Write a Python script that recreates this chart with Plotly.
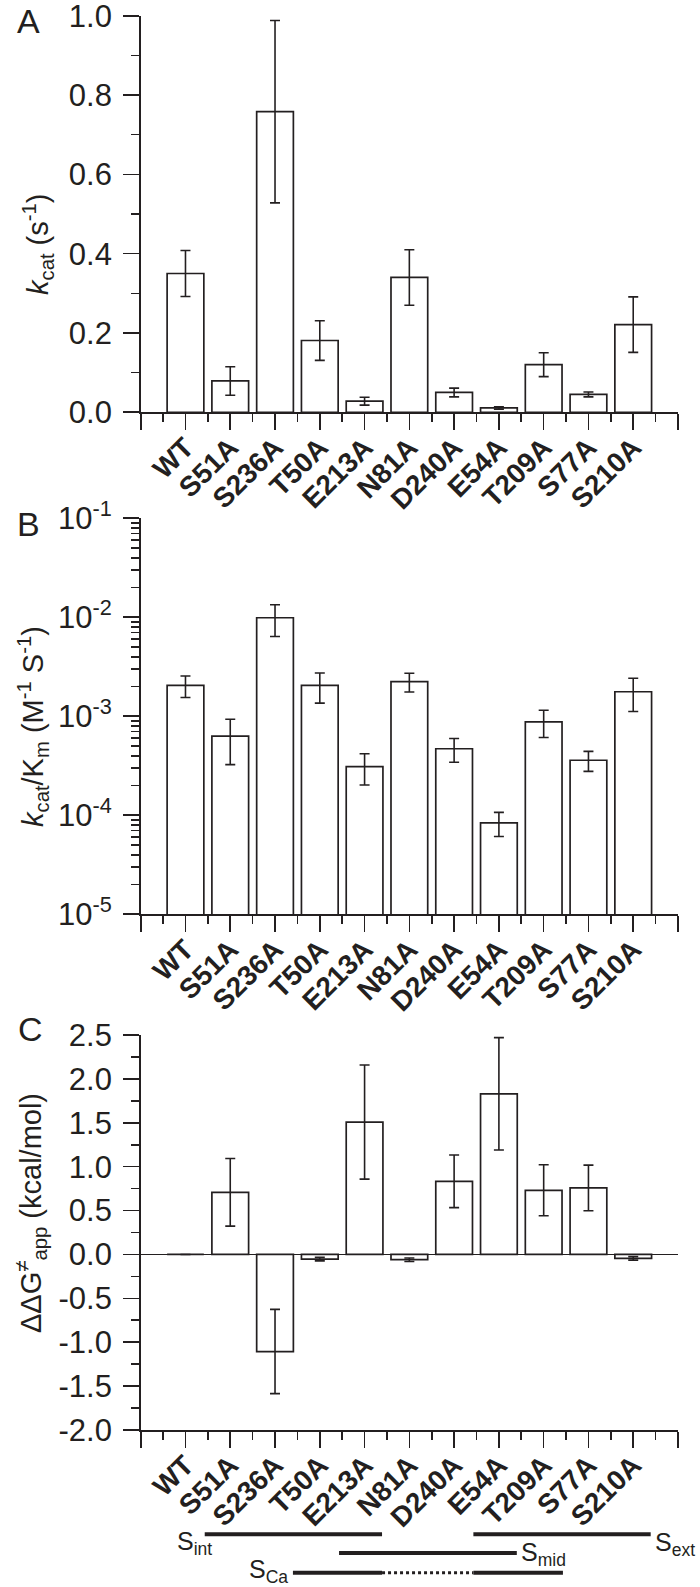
import plotly.graph_objects as go

# ---------------- data ----------------
mutants = ["WT", "S51A", "S236A", "T50A", "E213A", "N81A", "D240A", "E54A", "T209A", "S77A", "S210A"]

kcat = [0.350, 0.079, 0.758, 0.181, 0.028, 0.340, 0.050, 0.011, 0.120, 0.045, 0.221]
kcat_err = [0.058, 0.036, 0.230, 0.050, 0.010, 0.070, 0.011, 0.003, 0.030, 0.006, 0.070]

kcat_km = [2.05e-3, 6.3e-4, 9.9e-3, 2.05e-3, 3.1e-4, 2.24e-3, 4.7e-4, 8.4e-5, 8.8e-4, 3.6e-4, 1.77e-3]
kcat_km_err = [0.5e-3, 3.05e-4, 3.5e-3, 0.69e-3, 1.08e-4, 0.48e-3, 1.27e-4, 2.3e-5, 2.7e-4, 0.82e-4, 0.65e-3]

ddg = [0.0, 0.708, -1.106, -0.053, 1.508, -0.060, 0.833, 1.830, 0.731, 0.758, -0.045]
ddg_err = [0.0, 0.385, 0.480, 0.020, 0.650, 0.020, 0.300, 0.640, 0.290, 0.260, 0.020]

logB_vals = [1e-5, 1e-4, 1e-3, 1e-2, 1e-1]
logB_text = ["10<sup>-5</sup>", "10<sup>-4</sup>", "10<sup>-3</sup>", "10<sup>-2</sup>", "10<sup>-1</sup>"]
C_vals = [-2.0, -1.5, -1.0, -0.5, 0.0, 0.5, 1.0, 1.5, 2.0, 2.5]
C_text = ["-2.0", "-1.5", "-1.0", "-0.5", "0.0", "0.5", "1.0", "1.5", "2.0", "2.5"]

# site segments (category index start, end)
seg_int = [0.43, 4.39]
seg_mid = [3.43, 7.40]
seg_ext = [6.43, 10.39]
seg_ca_solid = [[2.40, 4.39], [6.43, 8.43]]
seg_ca_dot = [4.39, 6.43]

# ---------------- layout helpers ----------------
W, H = 700, 1587
INK = "#231f20"
FONT = "Liberation Sans, Arial, sans-serif"

def py(p):
    return 1 - p / H

def px(p):
    return p / W

xpos = list(range(len(mutants)))
xdom = [px(140.7), px(678)]

fig = go.Figure()

bar_style = dict(marker=dict(color="white", line=dict(color=INK, width=1.7)), width=0.82, showlegend=False)
err_style = dict(type="data", visible=True, color=INK, thickness=1.6, width=5)

fig.add_trace(go.Bar(x=xpos, y=kcat, error_y=dict(array=kcat_err, **err_style), xaxis="x", yaxis="y", **bar_style))
fig.add_trace(go.Bar(x=xpos, y=kcat_km, error_y=dict(array=kcat_km_err, **err_style), xaxis="x2", yaxis="y2", **bar_style))
fig.add_trace(go.Bar(x=xpos, y=ddg, error_y=dict(array=ddg_err, **err_style), xaxis="x3", yaxis="y3", **bar_style))

major_x = list(range(-1, len(mutants) + 1))
major_text = [""] + mutants + [""]
minor_x = [i + 0.5 for i in range(-1, len(mutants))]

def xaxis_cfg(anchor):
    return dict(
        domain=xdom, range=[-1, len(mutants)], anchor=anchor, automargin=False,
        tickmode="array", tickvals=major_x, ticktext=major_text,
        ticks="outside", ticklen=16, tickwidth=1.6, tickcolor=INK,
        tickangle=-45, ticklabelstandoff=-10, ticklabeloverflow="allow",
        tickfont=dict(family=FONT, size=28, color=INK, weight="bold"),
        showline=True, linecolor=INK, linewidth=1.6, showgrid=False, zeroline=False,
        minor=dict(tickmode="array", tickvals=minor_x, ticks="outside", ticklen=8, tickwidth=1.6, tickcolor=INK),
    )

yfont = dict(family=FONT, size=31, color=INK)
ycommon = dict(automargin=False, ticks="outside", ticklen=16, tickwidth=1.6, tickcolor=INK, tickfont=yfont,
               ticklabelstandoff=5, ticklabeloverflow="allow",
               showline=True, linecolor=INK, linewidth=1.6, showgrid=False)

fig.update_layout(
    template="none",
    width=W, height=H,
    margin=dict(l=0, r=0, t=0, b=0, autoexpand=False),
    paper_bgcolor="white", plot_bgcolor="white",
    xaxis=xaxis_cfg("y"),
    xaxis2=xaxis_cfg("y2"),
    xaxis3=xaxis_cfg("y3"),
    yaxis=dict(
        domain=[py(412.3), py(15.7)], range=[0, 1.0], anchor="x",
        tickmode="linear", tick0=0, dtick=0.2, tickformat=".1f", zeroline=False,
        minor=dict(dtick=0.1, ticks="outside", ticklen=8, tickwidth=1.6, tickcolor=INK),
        **ycommon,
    ),
    yaxis2=dict(
        domain=[py(914.3), py(518.3)], type="log", range=[-5, -1], anchor="x2",
        tickmode="array", tickvals=logB_vals, ticktext=logB_text, zeroline=False,
        minor=dict(dtick="D1", ticks="outside", ticklen=8, tickwidth=1.6, tickcolor=INK),
        **ycommon,
    ),
    yaxis3=dict(
        domain=[py(1430), py(1035)], range=[-2.0, 2.5], anchor="x3",
        tickmode="array", tickvals=C_vals, ticktext=C_text,
        zeroline=True, zerolinecolor=INK, zerolinewidth=1.6,
        minor=dict(tickmode="array", tickvals=[v + 0.25 for v in C_vals[:-1]], ticks="outside", ticklen=8, tickwidth=1.6, tickcolor=INK),
        **ycommon,
    ),
)

ann = []
# panel letters (top edge of text box, in page pixels)
for letter, cx, ty in [("A", 29, 0.5), ("B", 28, 504), ("C", 31, 1009)]:
    ann.append(dict(text=letter, x=px(cx), y=py(ty), xref="paper", yref="paper",
                    xanchor="center", yanchor="top", showarrow=False, borderpad=0,
                    font=dict(family=FONT, size=34, color=INK)))
# y titles
titles = [
    ("<i>k</i><sub>cat</sub> (s<sup>-1</sup>)", 38, 244),
    ("<i>k</i><sub>cat</sub>/K<sub>m</sub> (M<sup>-1</sup> S<sup>-1</sup>)", 33, 727),
    ("ΔΔG<sup>≠</sup><sub>app</sub> (kcal/mol)", 31, 1213),
]
for t, cx, cy in titles:
    ann.append(dict(text=t, x=px(cx), y=py(cy), xref="paper", yref="paper", textangle=-90,
                    xanchor="center", yanchor="middle", showarrow=False,
                    font=dict(family=FONT, size=29, color=INK)))
# site labels (x in category units, y in page pixels)
labels = [
    ("S<sub>int</sub>", -0.21, 1543),
    ("S<sub>mid</sub>", 7.47, 1554),
    ("S<sub>ext</sub>", 10.47, 1544),
    ("S<sub>Ca</sub>", 1.40, 1571),
]
for t, xi, cy in labels:
    ann.append(dict(text=t, x=xi, y=py(cy), xref="x3", yref="paper",
                    xanchor="left", yanchor="middle", showarrow=False, borderpad=0,
                    font=dict(family=FONT, size=25, color=INK)))
fig.update_layout(annotations=ann)

shapes = []
def seg(x0, x1, ypix, dash="solid", w=4):
    shapes.append(dict(type="line", xref="x3", yref="paper", x0=x0, x1=x1, y0=py(ypix), y1=py(ypix),
                       line=dict(color=INK, width=w, dash=dash)))
seg(seg_int[0], seg_int[1], 1534.3)
seg(seg_ext[0], seg_ext[1], 1534.3)
seg(seg_mid[0], seg_mid[1], 1553)
for s in seg_ca_solid:
    seg(s[0], s[1], 1572.7)
seg(seg_ca_dot[0], seg_ca_dot[1], 1572.7, dash="dot", w=3)
fig.update_layout(shapes=shapes)

fig.write_html("out.html", config={"displayModeBar": False, "staticPlot": True},
               post_script="document.body.style.margin='0px'; document.body.style.overflow='hidden';")
